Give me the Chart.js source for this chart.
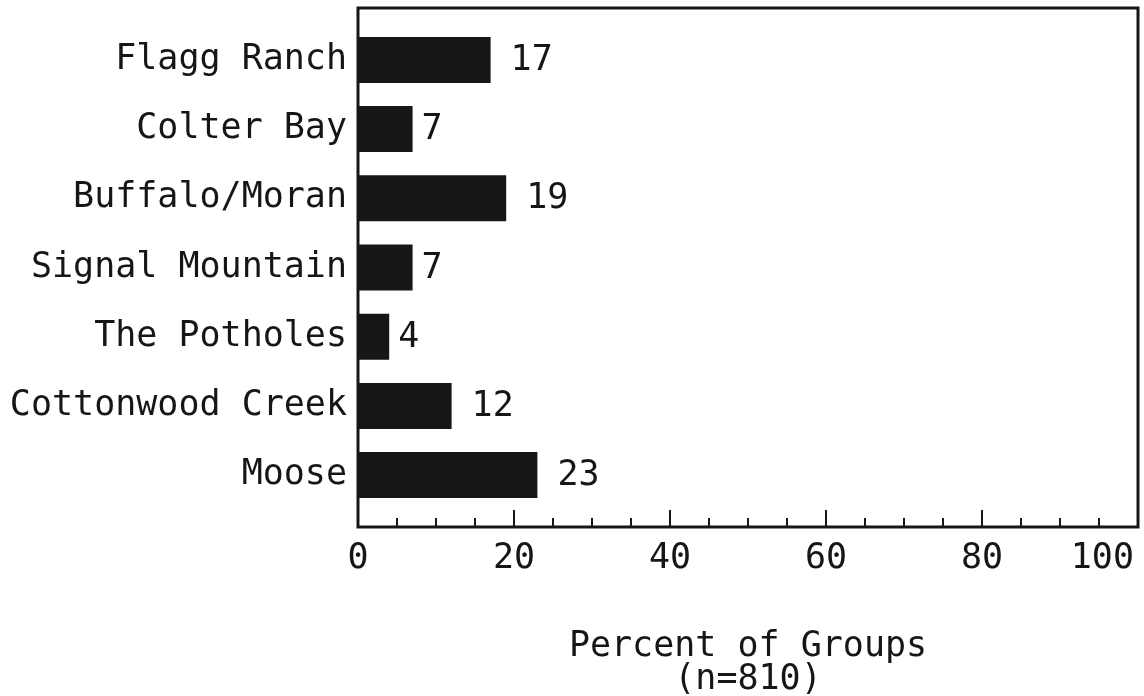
<!DOCTYPE html>
<html>
<head>
<meta charset="utf-8">
<script src="https://cdn.jsdelivr.net/npm/chart.js@4/dist/chart.umd.min.js"></script>
<style>
  body { margin: 0; background: #fff; }
  canvas { display: block; }
</style>
</head>
<body>
<canvas id="chart" width="1144" height="696"></canvas>
<script>
// Campground / area of stay
const sites = ['Flagg Ranch', 'Colter Bay', 'Buffalo/Moran', 'Signal Mountain', 'The Potholes', 'Cottonwood Creek', 'Moose'];
const percentOfGroups = [17, 7, 19, 7, 4, 12, 23];
const xTicks = [0, 20, 40, 60, 80, 100];
const xTitle = ['Percent of Groups', '(n=810)'];

const FONT = 'DejaVu Sans Mono';
const INK = '#161616';

// box frame, inward tick marks, axis numbers and bar values
const framePlugin = {
  id: 'frame',
  afterDatasetsDraw(chart) {
    const { ctx, chartArea: a, scales: { x } } = chart;
    ctx.save();
    ctx.font = `35px "${FONT}"`;
    ctx.fillStyle = INK;
    ctx.textBaseline = 'middle';
    ctx.textAlign = 'left';
    chart.getDatasetMeta(0).data.forEach((bar, i) => {
      const v = percentOfGroups[i];
      const gap = v >= 10 ? 20 : 9;
      ctx.fillText(String(v), bar.x + gap, bar.y + 1);
    });

    ctx.strokeStyle = INK;
    ctx.lineWidth = 3;
    ctx.strokeRect(a.left, a.top, a.right - a.left, a.bottom - a.top);

    ctx.lineWidth = 2;
    for (let v = 5; v < 100; v += 5) {
      const px = Math.round(x.getPixelForValue(v));
      const len = v % 20 === 0 ? 17 : 9;
      ctx.beginPath();
      ctx.moveTo(px, a.bottom);
      ctx.lineTo(px, a.bottom - len);
      ctx.stroke();
    }

    xTicks.forEach((v, i) => {
      const px = x.getPixelForValue(v);
      const last = i === xTicks.length - 1;
      ctx.textAlign = last ? 'right' : 'center';
      ctx.fillText(String(v), last ? px - 4 : px, a.bottom + 32);
    });
    ctx.restore();
  }
};

new Chart(document.getElementById('chart'), {
  type: 'bar',
  data: {
    datasets: [{
      data: percentOfGroups.map((v, i) => ({ x: v, y: i })),
      backgroundColor: INK,
      borderWidth: 0,
      categoryPercentage: 1,
      barPercentage: 0.665
    }]
  },
  options: {
    indexAxis: 'y',
    responsive: false,
    animation: false,
    layout: { padding: { top: 8, right: 6, bottom: 0, left: 0 } },
    plugins: { legend: { display: false }, tooltip: { enabled: false } },
    scales: {
      x: {
        type: 'linear',
        min: 0,
        max: 100,
        grid: { display: false, drawTicks: false },
        border: { display: false },
        ticks: { display: false },
        title: {
          display: true,
          text: xTitle,
          color: INK,
          font: { family: FONT, size: 35, lineHeight: '33px' },
          padding: { top: 0, bottom: 0 }
        },
        afterFit(scale) { scale.height = 169; }
      },
      y: {
        type: 'linear',
        reverse: true,
        offset: false,
        min: -0.75,
        max: 6.75,
        grid: { display: false, drawTicks: false, offset: false },
        border: { display: false },
        afterBuildTicks(scale) { scale.ticks = sites.map((_, i) => ({ value: i })); },
        ticks: {
          callback: v => sites[v],
          color: INK,
          font: { family: FONT, size: 35 },
          padding: 11,
          crossAlign: 'near'
        },
        afterFit(scale) {
          scale.width = 358;
          scale.paddingTop = 0;
          scale.paddingBottom = 0;
        }
      }
    }
  },
  plugins: [framePlugin]
});
</script>
</body>
</html>
